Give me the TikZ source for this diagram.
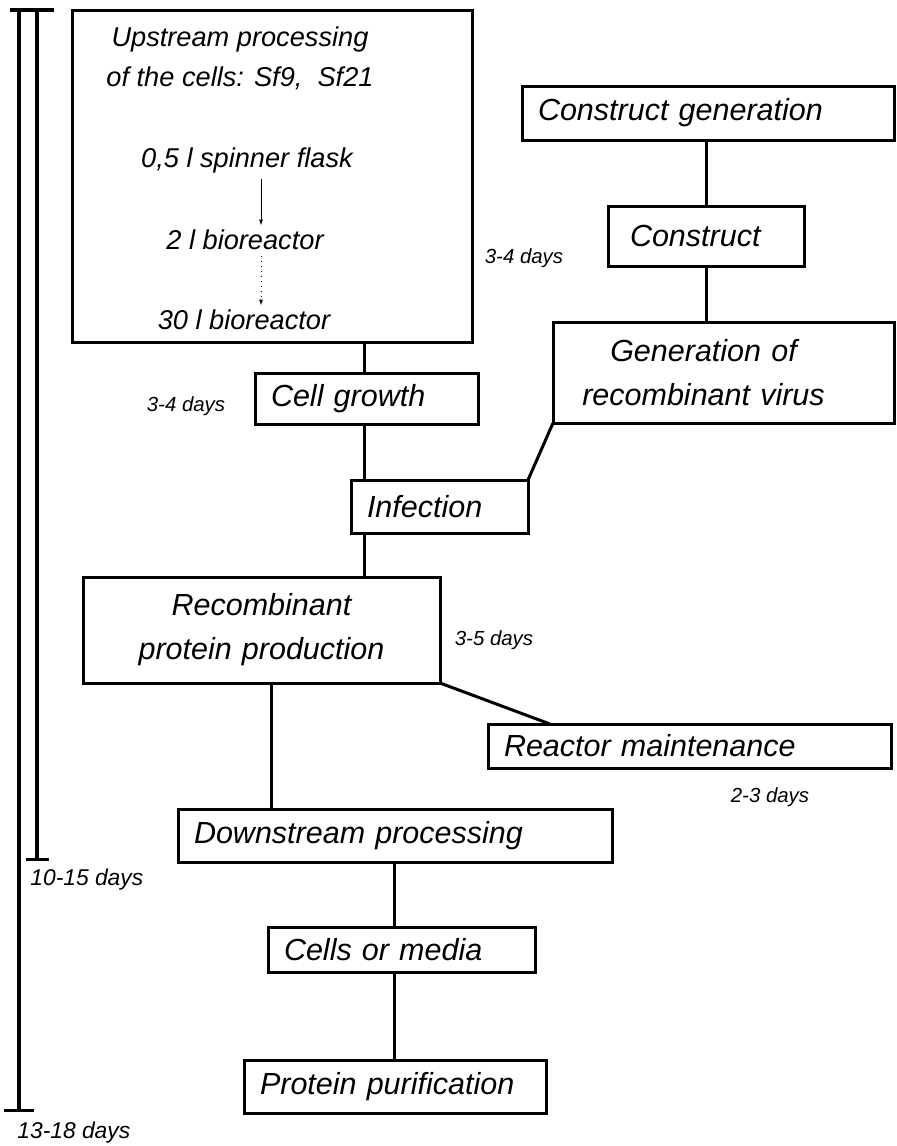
\documentclass[tikz,border=0pt]{standalone}
\usepackage{fontspec}
\setmainfont{Liberation Sans}
\usetikzlibrary{positioning, arrows.meta}

\tikzset{
  stage/.style={draw, line width=1.5pt, anchor=north west, align=left,
        inner xsep=8pt, inner ysep=0pt, outer sep=0pt,
        font=\fontsize{15.25}{22}\selectfont\itshape},
  culture/.style={inner sep=1pt, align=center,
        font=\fontsize{13.6}{20}\selectfont\itshape},
  period/.style={inner sep=0pt, font=\fontsize{10.2}{12}\selectfont\itshape},
  total/.style={inner sep=0pt, anchor=west, font=\fontsize{11.4}{13}\selectfont\itshape},
  link/.style={line width=1.5pt},
  scalebar/.style={line width=1.6pt},
  passage/.style={line width=0.5pt, -{Latex[length=3pt, width=2pt]}, shorten <=2pt, shorten >=1pt},
}

\begin{document}
\begin{tikzpicture}[x=0.5pt, y=-0.5pt]
  \useasboundingbox (0,0) rectangle (897,1146);

  % time scale
  \draw[scalebar] (10,10) -- (54,10);
  \draw[scalebar, -{Bar[width=15pt]}] (19,10) -- (19,1112);
  \draw[scalebar, -{Bar[width=11.5pt]}] (37,10) -- (37,861);
  \node[total] (short span) at (30,880) {10-15 days};
  \node[total] (long span) at (17,1133) {13-18 days};

  % upstream processing
  \node[stage, minimum width=200pt, minimum height=166pt] (up) at (72,10) {};
  \node[culture] (cells) at (240,58) {Upstream processing\\of the cells: Sf9,\ \ Sf21};
  \node[culture] (flask) at (247,160) {0,5 l spinner flask};
  \node[culture] (bio2) at (245,240) {2 l bioreactor};
  \node[culture] (bio30) at (244,320) {30 l bioreactor};
  \coordinate (feed) at (261,0);
  \draw[passage] (flask.south -| feed) -- (bio2.north -| feed);
  \draw[passage, dotted] (bio2.south -| feed) -- (bio30.north -| feed);

  \node[stage, text width=95.5pt, minimum height=25.5pt] (grow) at (255,373) {Cell growth};
  \node[stage, text width=72.5pt, minimum height=26.5pt] (infect) at (351,480) {Infection};

  % virus branch
  \node[stage, text width=170pt, minimum height=27pt] (cgen) at (522,86) {Construct generation};
  \node[stage, text width=82pt, minimum height=30pt] (cons) at (608,206) {\hspace{3pt}Construct};
  \node[stage, align=center, text width=154.5pt, minimum height=50.5pt] (virus) at (553,322)
        {Generation of\hspace{20pt}\mbox{}\\recombinant virus\hspace{20pt}\mbox{}};

  % production and downstream
  \node[stage, align=center, text width=162.5pt, minimum height=53pt] (prod) at (83,577)
        {Recombinant\\protein production};
  \node[stage, text width=185.5pt, minimum height=22pt] (maint) at (488,724) {Reactor maintenance};
  \node[stage, text width=201pt, minimum height=26.5pt] (down) at (178,809) {Downstream processing};
  \node[stage, text width=117.5pt, minimum height=22.5pt] (media) at (268,927) {Cells or media};
  \node[stage, text width=135pt, minimum height=26.5pt] (purif) at (244,1060) {Protein purification};

  % durations
  \node[period] (t virus) at (524,258) {3-4 days};
  \node[period] (t grow) at (186,406) {3-4 days};
  \node[period] (t prod) at (494,640) {3-5 days};
  \node[period] (t maint) at (770,797) {2-3 days};

  % connections
  \coordinate (trunk) at (364,0);
  \coordinate (cons axis) at (706,0);
  \coordinate (prod axis) at (271,0);
  \coordinate (down axis) at (394,0);
  \draw[link] (up.south -| trunk) -- (grow.north -| trunk);
  \draw[link] (grow.south -| trunk) -- (infect.north -| trunk);
  \draw[link] (infect.south -| trunk) -- (prod.north -| trunk);
  \draw[link] (cgen.south -| cons axis) -- (cons.north -| cons axis);
  \draw[link] (cons.south -| cons axis) -- (virus.north -| cons axis);
  \draw[link] (virus.south west) -- (infect.north east);
  \draw[link] (prod.south east) -- ([xshift=31pt]maint.north west);
  \draw[link] (prod.south -| prod axis) -- (down.north -| prod axis);
  \draw[link] (down.south -| down axis) -- (media.north -| down axis);
  \draw[link] (media.south -| down axis) -- (purif.north -| down axis);
\end{tikzpicture}
\end{document}
